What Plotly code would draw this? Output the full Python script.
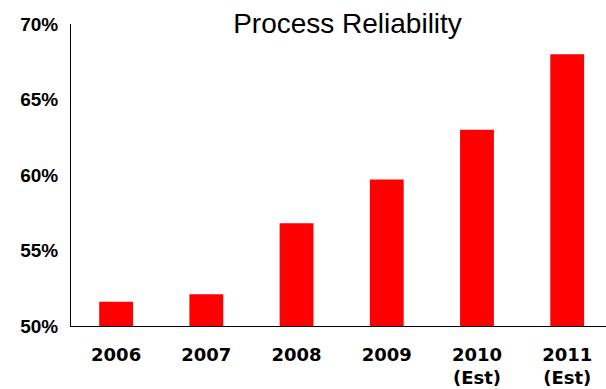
import plotly.graph_objects as go

# Process reliability by year (fraction of 1)
years = ["2006", "2007", "2008", "2009", "2010<br>(Est)", "2011<br>(Est)"]
reliability = [0.516, 0.521, 0.568, 0.597, 0.630, 0.680]

y_ticks = [0.50, 0.55, 0.60, 0.65, 0.70]
y_tick_text = ["50%", "55%", "60%", "65%", "70%"]

fig = go.Figure(
    go.Bar(
        x=list(range(len(years))),
        y=reliability,
        width=0.375,
        marker=dict(color="#FF0000", line=dict(width=0)),
        hoverinfo="skip",
    )
)

fig.update_layout(
    width=606,
    height=389,
    margin=dict(l=71, r=0, t=24, b=63),
    paper_bgcolor="white",
    plot_bgcolor="white",
    showlegend=False,
    title=dict(
        text="Process Reliability",
        x=347.5 / 606,
        xanchor="center",
        y=1 - 23 / 389,
        yanchor="middle",
        font=dict(family="Liberation Sans Narrow, Liberation Sans, Arial, sans-serif",
                  size=28, color="black"),
    ),
)

fig.update_xaxes(
    range=[-0.5, 5.43],
    tickmode="array",
    tickvals=list(range(len(years))),
    ticktext=years,
    tickfont=dict(family="DejaVu Sans, Verdana, sans-serif", size=18, color="black", weight="bold"),
    ticklabelstandoff=12,
    showline=True,
    linecolor="black",
    linewidth=1,
    ticks="",
    showgrid=False,
    zeroline=False,
    fixedrange=True,
)

fig.update_yaxes(
    range=[0.50, 0.70],
    tickmode="array",
    tickvals=y_ticks,
    ticktext=y_tick_text,
    tickfont=dict(family="Liberation Sans, Arial, sans-serif", size=19, color="black", weight="bold"),
    showline=True,
    linecolor="black",
    linewidth=1,
    ticks="",
    ticklabelstandoff=8,
    showgrid=False,
    zeroline=False,
    fixedrange=True,
)

fig.write_html("out.html", config={"displayModeBar": False})
